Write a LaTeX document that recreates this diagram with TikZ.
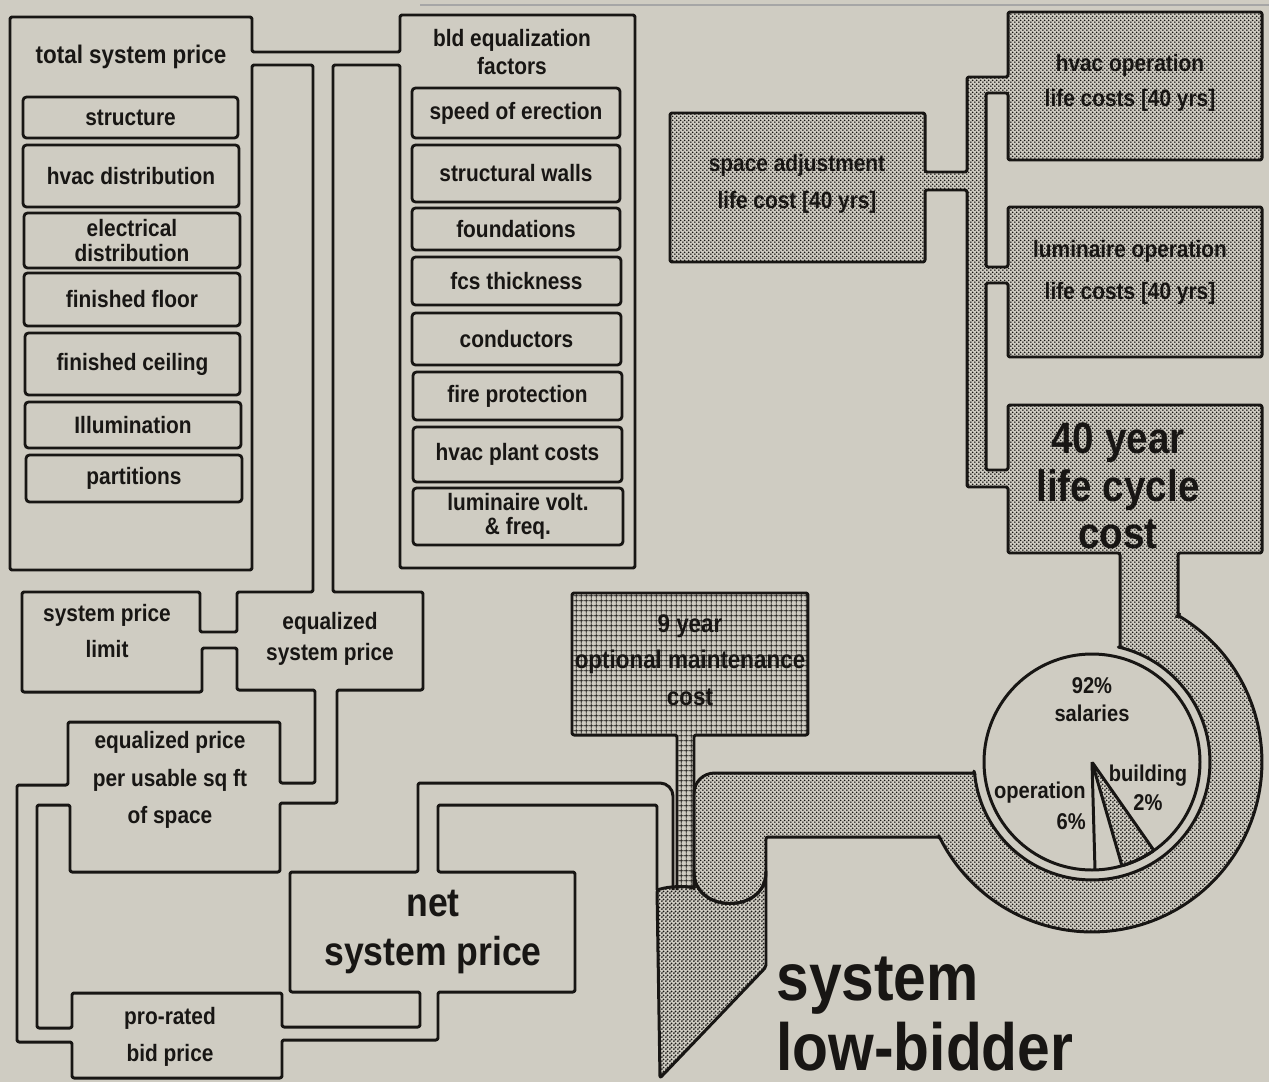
\documentclass[tikz,border=0pt]{standalone}
\usepackage{fontspec}
\setmainfont{Liberation Sans}[FakeStretch=0.88]
\usetikzlibrary{patterns}
\definecolor{paper}{RGB}{207,204,194}
\definecolor{ink}{RGB}{24,22,20}
\newcommand\myfs[2]{\fontsize{#1}{#2}\selectfont\bfseries}
\pgfdeclarepatternformonly{mydots}{\pgfqpoint{0pt}{0pt}}{\pgfqpoint{2.4pt}{2.4pt}}{\pgfqpoint{2.4pt}{2.4pt}}%
{\pgfpathcircle{\pgfqpoint{0.6pt}{0.6pt}}{0.58pt}\pgfpathcircle{\pgfqpoint{1.8pt}{1.8pt}}{0.58pt}\pgfusepath{fill}}
\pgfdeclarepatternformonly{densedots}{\pgfqpoint{0pt}{0pt}}{\pgfqpoint{2.4pt}{2.4pt}}{\pgfqpoint{2.4pt}{2.4pt}}%
{\pgfpathcircle{\pgfqpoint{0.65pt}{0.65pt}}{0.65pt}\pgfpathcircle{\pgfqpoint{1.75pt}{1.75pt}}{0.65pt}\pgfusepath{fill}}
\pgfdeclarepatternformonly{mygrid}{\pgfqpoint{0pt}{0pt}}{\pgfqpoint{3pt}{3pt}}{\pgfqpoint{3pt}{3pt}}%
{\pgfsetlinewidth{0.5pt}\pgfpathmoveto{\pgfqpoint{1.5pt}{0pt}}\pgfpathlineto{\pgfqpoint{1.5pt}{3pt}}%
\pgfpathmoveto{\pgfqpoint{0pt}{1.5pt}}\pgfpathlineto{\pgfqpoint{3pt}{1.5pt}}\pgfusepath{stroke}}
\newcommand\ibox[6]{\node[ibox, minimum width={(#4-#2)*0.02cm}, minimum height={(#5-#3)*0.02cm}] (#1) at ({(#2+#4)/2},{(#3+#5)/2}) {#6};}
\begin{document}
\begin{tikzpicture}[x=0.02cm,y=-0.02cm,
  wall/.style={draw=ink, line width=1.7pt, line join=round, rounded corners=1.2pt},
  ibox/.style={draw=ink, line width=1.6pt, rounded corners=2pt, inner sep=0pt, outer sep=0pt, align=center, text=ink, font=\myfs{13.5}{14}},
  lbl/.style={inner sep=0pt, align=center, text=ink, font=\myfs{13.5}{20}},
  dotfill/.style={pattern=mydots, pattern color=ink},
  densefill/.style={pattern=densedots, pattern color=ink},
  gridfill/.style={pattern=mygrid, pattern color=ink}]
\useasboundingbox (0,0) rectangle (1269,1082);
\fill[paper] (0,0) rectangle (1269,1082);
\draw[black!35, line width=0.7pt] (420,5) -- (1269,5);

% funnel
\draw[wall, densefill] (657,890) .. controls (670,886) and (685,886) .. (694,888) -- (694,870)
  .. controls (694,914) and (766,914) .. (766,870) -- (766,967) -- (660,1078) -- cycle;

% dotted life-cycle system
\draw[wall, dotfill]
 (670,113) -- (925,113) -- (925,172) -- (967,172) -- (967,77) -- (1008,77) -- (1008,12) -- (1262,12)
 -- (1262,160) -- (1008,160) -- (1008,93) -- (986,93) -- (986,267) -- (1008,267) -- (1008,207)
 -- (1262,207) -- (1262,357) -- (1008,357) -- (1008,283) -- (986,283) -- (986,470) -- (1008,470)
 -- (1008,405) -- (1262,405) -- (1262,553) -- (1178,553) -- (1178,615.4)
 -- plot[domain=0:1, samples=70] ({1092+170*cos(-59.6+213.4*\x)},{762+170*sin(-59.6+213.4*\x)})
 -- (939.4,837) -- (766,837) -- (766,870) .. controls (766,914) and (694,914) .. (694,870)
 -- (694,796) .. controls (694,782) and (703,773) .. (717,773) -- (974.5,773)
 -- plot[domain=0:1, samples=70] ({1092+118*cos(174.6-250.9*\x)},{762+118*sin(174.6-250.9*\x)})
 -- (1120,647.4) -- (1120,553) -- (1008,553) -- (1008,487) -- (967,487) -- (967,190) -- (925,190)
 -- (925,262) -- (670,262) -- cycle;

% maintenance box and pipe
\path[gridfill] (677,890) -- (677,735) -- (572,735) -- (572,593) -- (808,593) -- (808,735) -- (694,735) -- (694,890) -- cycle;
\draw[wall] (677,890) -- (677,735) -- (572,735) -- (572,593) -- (808,593) -- (808,735) -- (694,735) -- (694,890);

% left price system outline
\draw[wall] (673,890) -- (673,798) .. controls (673,789) and (667,783) .. (658,783) -- (418,783) -- (418,872)
 -- (290,872) -- (290,992) -- (420,992) -- (420,1027) -- (282,1027) -- (282,993) -- (72,993) -- (72,1028)
 -- (37,1028) -- (37,805) -- (70,805) -- (70,872) -- (280,872) -- (280,803) -- (337,803) -- (337,690)
 -- (423,690) -- (423,592) -- (333,592) -- (333,65) -- (400,65) -- (400,568) -- (635,568) -- (635,15)
 -- (400,15) -- (400,52) -- (252,52) -- (252,17) -- (10,17) -- (10,570) -- (252,570) -- (252,65)
 -- (313,65) -- (313,592) -- (237,592) -- (237,632) -- (200,632) -- (200,592) -- (22,592) -- (22,692)
 -- (202,692) -- (202,648) -- (237,648) -- (237,690) -- (315,690) -- (315,783) -- (280,783) -- (280,722)
 -- (68,722) -- (68,785) -- (17,785) -- (17,1042) -- (72,1042) -- (72,1078) -- (282,1078) -- (282,1040)
 -- (438,1040) -- (438,992) -- (575,992) -- (575,872) -- (438,872) -- (438,805) -- (657,805) -- (657,890);

% pie
\draw[wall, fill=paper] (1092,762) circle[radius=108];
\draw[wall, densefill] (1092,762) -- plot[domain=0:1, samples=12] ({1092+108*cos(73.9-18.9*\x)},{762+108*sin(73.9-18.9*\x)}) -- cycle;
\draw[wall] (1092,762) -- ({1092+108*cos(88.4)},{762+108*sin(88.4)});

% item boxes, left column
\ibox{structure}{23}{97}{238}{138}{structure}
\ibox{hvacdist}{23}{145}{239}{207}{hvac distribution}
\ibox{elecdist}{24}{213}{240}{268}{electrical\\distribution}
\ibox{floor}{24}{273}{240}{326}{finished floor}
\ibox{ceiling}{25}{333}{240}{395}{finished ceiling}
\ibox{illum}{25}{402}{241}{448}{Illumination}
\ibox{partitions}{26}{455}{242}{502}{partitions}
% item boxes, right column
\ibox{speed}{412}{88}{620}{138}{speed of erection}
\ibox{walls}{412}{145}{620}{202}{structural walls}
\ibox{found}{412}{208}{620}{250}{foundations}
\ibox{fcs}{412}{257}{621}{305}{fcs thickness}
\ibox{cond}{412}{313}{621}{365}{conductors}
\ibox{fire}{413}{372}{622}{420}{fire protection}
\ibox{plant}{413}{427}{622}{482}{hvac plant costs}
\ibox{lumvolt}{413}{488}{623}{545}{luminaire volt.\\\& freq.}

% labels
\node[lbl, font=\myfs{14.5}{16}] (tsp) at (131,57) {total system price};
\node[lbl, font=\myfs{13.5}{15.5}] (bef) at (512,52) {bld equalization\\factors};
\node[lbl, font=\myfs{13.5}{20}] (spl) at (107,631) {system price\\limit};
\node[lbl, font=\myfs{13.5}{18}] (esp) at (330,639) {equalized\\system price};
\node[lbl, font=\myfs{13.5}{21.5}] (epsf) at (170,780) {equalized price\\per usable sq ft\\of space};
\node[lbl, font=\myfs{13.5}{21}] (prb) at (170,1037) {pro-rated\\bid price};
\node[lbl, font=\myfs{23}{28}] (nsp) at (433,932) {net\\system price};
\node[lbl, font=\myfs{38}{40}, anchor=west, align=left] (slb) at (776,1014) {system\\low-bidder};
\node[lbl, font=\myfs{13.5}{21}] (sal) at (797,184) {space adjustment\\life cost [40 yrs]};
\node[lbl, font=\myfs{13.5}{20}] (hvo) at (1130,83) {hvac operation\\life costs [40 yrs]};
\node[lbl, font=\myfs{13.5}{24}] (luo) at (1130,272) {luminaire operation\\life costs [40 yrs]};
\node[lbl, font=\myfs{25}{27}] (lcc) at (1118,486) {40 year\\life cycle\\cost};
\node[lbl, font=\myfs{14.5}{20.7}] (nym) at (690,660) {9 year\\optional maintenance\\cost};
\node[lbl, font=\myfs{13}{16}] (sal2) at (1092,700) {92\%\\salaries};
\node[lbl, font=\myfs{13}{18}, anchor=east, align=right] (oper) at (1086,806) {operation\\6\%};
\node[lbl, font=\myfs{13}{16.5}] (bldg) at (1148,788) {building\\2\%};
\end{tikzpicture}
\end{document}
